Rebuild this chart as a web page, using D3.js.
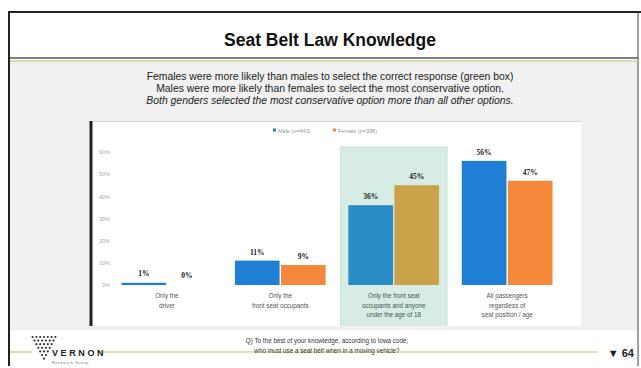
<!DOCTYPE html>
<html><head><meta charset="utf-8">
<script src="https://cdn.jsdelivr.net/npm/d3@7"></script>
<style>body{margin:0;background:#fff}svg{display:block;font-family:"Liberation Sans",Arial,sans-serif}</style>
</head><body><svg id="c" width="641" height="368"></svg>
<script>
const categories = [
  ["Only the", "driver"],
  ["Only the", "front seat occupants"],
  ["Only the front seat", "occupants and anyone", "under the age of 18"],
  ["All passengers", "regardless of", "seat position / age"]
];
const categoryKeys = ["driver", "front", "front18", "all"];
const seriesNames = ["Male (n=443)", "Female (n=398)"];
const maleValues = [1, 11, 36, 56];
const femaleValues = [0, 9, 45, 47];
const yTicks = [0, 10, 20, 30, 40, 50, 60];
const highlightKey = "front18";
const subtitleLines = [
  "Females were more likely than males to select the correct response (green box)",
  "Males were more likely than females to select the most conservative option.",
  "Both genders selected the most conservative option more than all other options."
];
const questionLines = [
  "Q) To the best of your knowledge, according to Iowa code,",
  "who must use a seat belt when in a moving vehicle?"
];

const svg = d3.select("#c");
const colors = ["#1f7fd4", "#f5883a"];

// background panels
svg.append("rect").attr("x", 9).attr("y", 13).attr("width", 630).attr("height", 352).attr("fill", "#fff");
svg.append("rect").attr("x", 10).attr("y", 62).attr("width", 628).attr("height", 268).attr("fill", "#f1f1f1");
// frame
svg.append("line").attr("x1", 8).attr("x2", 641).attr("y1", 12).attr("y2", 12).attr("stroke", "#222").attr("stroke-width", 2);
svg.append("line").attr("x1", 9).attr("x2", 9).attr("y1", 11).attr("y2", 366).attr("stroke", "#222").attr("stroke-width", 2);
svg.append("line").attr("x1", 638).attr("x2", 638).attr("y1", 11).attr("y2", 366).attr("stroke", "#444").attr("stroke-width", 1);
svg.append("line").attr("x1", 10).attr("x2", 638).attr("y1", 58).attr("y2", 58).attr("stroke", "#555").attr("stroke-width", 1.5);
svg.append("line").attr("x1", 10).attr("x2", 638).attr("y1", 61).attr("y2", 61).attr("stroke", "#cfcf9a").attr("stroke-width", 1.5);

// title
svg.append("text").attr("x", 330).attr("y", 46).attr("text-anchor", "middle")
  .attr("font-size", 17.5).attr("font-weight", "bold").attr("fill", "#111").text("Seat Belt Law Knowledge");

// subtitle
svg.selectAll("text.sub").data(subtitleLines).join("text").attr("class", "sub")
  .attr("x", 330).attr("y", (d, i) => 80 + i * 12).attr("text-anchor", "middle")
  .attr("font-size", 10.4).attr("fill", "#222").attr("font-style", (d, i) => i === 2 ? "italic" : "normal").text(d => d);

// chart panel
svg.append("rect").attr("x", 91).attr("y", 121).attr("width", 490).attr("height", 205).attr("fill", "#fff");
svg.append("line").attr("x1", 91).attr("x2", 581).attr("y1", 121.5).attr("y2", 121.5).attr("stroke", "#d8d8d8");
svg.append("line").attr("x1", 91).attr("x2", 91).attr("y1", 121).attr("y2", 326).attr("stroke", "#222").attr("stroke-width", 3);

const x0 = d3.scaleBand().domain(categoryKeys).range([121.5, 552.5]).paddingInner(0.2).paddingOuter(0);
const x1 = d3.scaleBand().domain([0, 1]).range([0, x0.bandwidth()]).paddingInner(0.03);
const y = d3.scaleLinear().domain([0, 60]).range([285, 152]);

// y axis
const yAxis = d3.axisLeft(y).tickValues(yTicks).tickFormat(d => d + "%").tickSize(0).tickPadding(0);
const ya = svg.append("g").attr("transform", "translate(110,0)").call(yAxis);
ya.select(".domain").remove();
ya.selectAll("text").attr("font-size", 5.5).attr("fill", "#aaa").attr("font-family", "Liberation Sans, Arial");

// highlight box
const hx = x0(highlightKey);
svg.append("rect").attr("x", hx - 8).attr("y", 147).attr("width", x0.bandwidth() + 16).attr("height", 178)
  .attr("fill", "#d7ece4").attr("stroke", "#c5e0d6");

const data = categoryKeys.map((k, i) => ({ key: k, vals: [maleValues[i], femaleValues[i]] }));
const g = svg.selectAll("g.grp").data(data).join("g").attr("class", "grp")
  .attr("transform", d => `translate(${x0(d.key)},0)`);
g.selectAll("rect.bar").data(d => d.vals.map((v, j) => ({ v, j, hl: d.key === highlightKey }))).join("rect").attr("class", "bar")
  .attr("x", d => x1(d.j)).attr("width", x1.bandwidth())
  .attr("y", d => y(d.v)).attr("height", d => y(0) - y(d.v))
  .attr("fill", d => d.hl ? (d.j === 0 ? "#2a8cc4" : "#c9a24a") : colors[d.j]);
g.selectAll("text.val").data(d => d.vals.map((v, j) => ({ v, j }))).join("text").attr("class", "val")
  .attr("x", d => x1(d.j) + x1.bandwidth() / 2 + (d.v === 0 ? -3 : 0)).attr("y", d => y(d.v) - (d.v < 3 ? 7 : 6))
  .attr("text-anchor", "middle").attr("font-size", 7.5).attr("font-weight", "bold").attr("fill", "#222")
  .attr("font-family", "Liberation Serif, serif").text(d => d.v + "%");
g.each(function (d, i) {
  d3.select(this).selectAll("text.cat").data(categories[i]).join("text").attr("class", "cat")
    .attr("x", x0.bandwidth() / 2).attr("y", (t, k) => 298 + k * 9.5).attr("text-anchor", "middle")
    .attr("font-size", 6.3).attr("fill", d.key === highlightKey ? "#3d5a4d" : "#555").text(t => t);
});

// legend
const leg = svg.append("g").attr("transform", "translate(273,131)");
seriesNames.forEach((s, i) => {
  const lg = leg.append("g").attr("transform", `translate(${i * 60},0)`);
  lg.append("rect").attr("x", 0).attr("y", -2.5).attr("width", 3).attr("height", 3).attr("fill", colors[i]);
  lg.append("text").attr("x", 5).attr("y", 1.5).attr("font-size", 5.5).attr("fill", "#999").text(s);
});

// footer
svg.append("line").attr("x1", 10).attr("x2", 32).attr("y1", 352).attr("y2", 352).attr("stroke", "#c9c27a").attr("stroke-width", 1.2);
svg.append("line").attr("x1", 97).attr("x2", 598).attr("y1", 352).attr("y2", 352).attr("stroke", "#c9c27a").attr("stroke-width", 1.2);
const rows = [7, 6, 5, 4, 3, 2, 1];
rows.forEach((n, r) => {
  for (let k = 0; k < n; k++) {
    svg.append("circle").attr("cx", 44 - (n - 1) * 1.9 + k * 3.8).attr("cy", 337 + r * 3.6).attr("r", 1.1).attr("fill", "#333");
  }
});
svg.append("text").attr("x", 52).attr("y", 356).attr("font-size", 9).attr("font-weight", "bold")
  .attr("letter-spacing", 2.6).attr("fill", "#222").text("VERNON");
svg.append("text").attr("x", 52).attr("y", 364).attr("font-size", 3.5).attr("fill", "#666").attr("letter-spacing", 0.8).text("Research Group");
svg.selectAll("text.q").data(questionLines).join("text").attr("class", "q")
  .attr("x", 327).attr("y", (d, i) => 343 + i * 10).attr("text-anchor", "middle")
  .attr("font-size", 6.3).attr("fill", "#333").text(d => d);
svg.append("text").attr("x", 634).attr("y", 357).attr("text-anchor", "end").attr("font-size", 11).attr("font-weight", "bold")
  .attr("fill", "#222").text("▼ 64");
</script></body></html>
